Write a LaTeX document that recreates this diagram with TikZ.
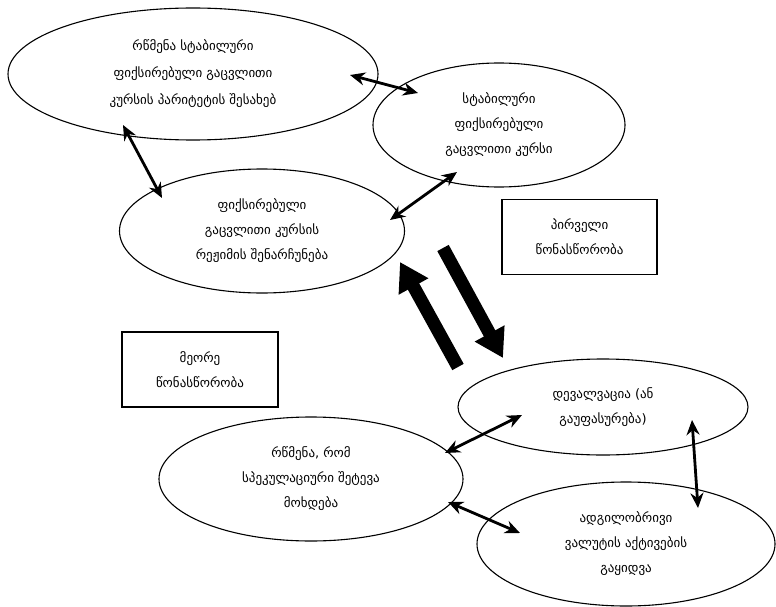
\documentclass[tikz,border=0pt]{standalone}
\usepackage{fontspec}
\setmainfont{DejaVu Sans}
\usetikzlibrary{shapes.geometric,arrows.meta}
\begin{document}
\begin{tikzpicture}[x=1pt,y=-1pt,
  oval/.style={ellipse,draw,line width=1.1pt,fill=white,align=center,inner sep=0pt,
    font=\fontsize{13}{25}\selectfont},
  tag/.style={draw,line width=1.1pt,align=center,inner sep=0pt,
    font=\fontsize{13}{25}\selectfont},
  link/.style={{Stealth[length=15pt,width=13pt]}-{Stealth[length=15pt,width=13pt]},line width=2.8pt},
  fat/.style={-{Triangle[length=28pt,width=32pt]},line width=13pt}]
\useasboundingbox (0,0) rectangle (776,607);
% ellipses
\node[oval,minimum width=370pt,minimum height=132pt,font=\fontsize{13}{27}\selectfont] (e1) at (193,74)
  {რწმენა სტაბილური\\ფიქსირებული გაცვლითი\\კურსის პარიტეტის შესახებ};
\node[oval,minimum width=252pt,minimum height=124pt] (e2) at (499,125)
  {სტაბილური\\ფიქსირებული\\გაცვლითი კურსი};
\node[oval,minimum width=285pt,minimum height=124pt] (e3) at (262,231)
  {ფიქსირებული\\გაცვლითი კურსის\\რეჟიმის შენარჩუნება};
\node[oval,minimum width=290pt,minimum height=96pt] (e6) at (603,407)
  {დევალვაცია (ან\\გაუფასურება)};
\node[oval,minimum width=304pt,minimum height=124pt] (e7) at (311,479)
  {რწმენა, რომ\\სპეკულაციური შეტევა\\მოხდება};
\node[oval,minimum width=298pt,minimum height=124pt] (e8) at (626,544)
  {ადგილობრივი\\ვალუტის აქტივების\\გაყიდვა};
% boxes
\node[tag,minimum width=155pt,minimum height=75pt] (b1) at (579.5,237)
  {პირველი\\წონასწორობა};
\node[tag,minimum width=156pt,minimum height=75pt] (b2) at (200,369.5)
  {მეორე\\წონასწორობა};
% connector end points
\coordinate (p12a) at (350,75);  \coordinate (p12b) at (418,93);
\coordinate (p13a) at (123,125); \coordinate (p13b) at (162,198);
\coordinate (p32a) at (390,220); \coordinate (p32b) at (457,172);
\coordinate (p76a) at (445,453); \coordinate (p76b) at (522,415);
\coordinate (p78a) at (448,502); \coordinate (p78b) at (520,533);
\coordinate (p68a) at (692,420); \coordinate (p68b) at (698,508);
\coordinate (up1) at (458,367);  \coordinate (up2) at (400,262);
\coordinate (dn1) at (443,248);  \coordinate (dn2) at (503,358);
% connectors
\draw[link] (p12a) -- (p12b);
\draw[link] (p13a) -- (p13b);
\draw[link] (p32a) -- (p32b);
\draw[link] (p76a) -- (p76b);
\draw[link] (p78a) -- (p78b);
\draw[link] (p68a) -- (p68b);
\draw[fat] (up1) -- (up2);
\draw[fat] (dn1) -- (dn2);
\end{tikzpicture}
\end{document}
